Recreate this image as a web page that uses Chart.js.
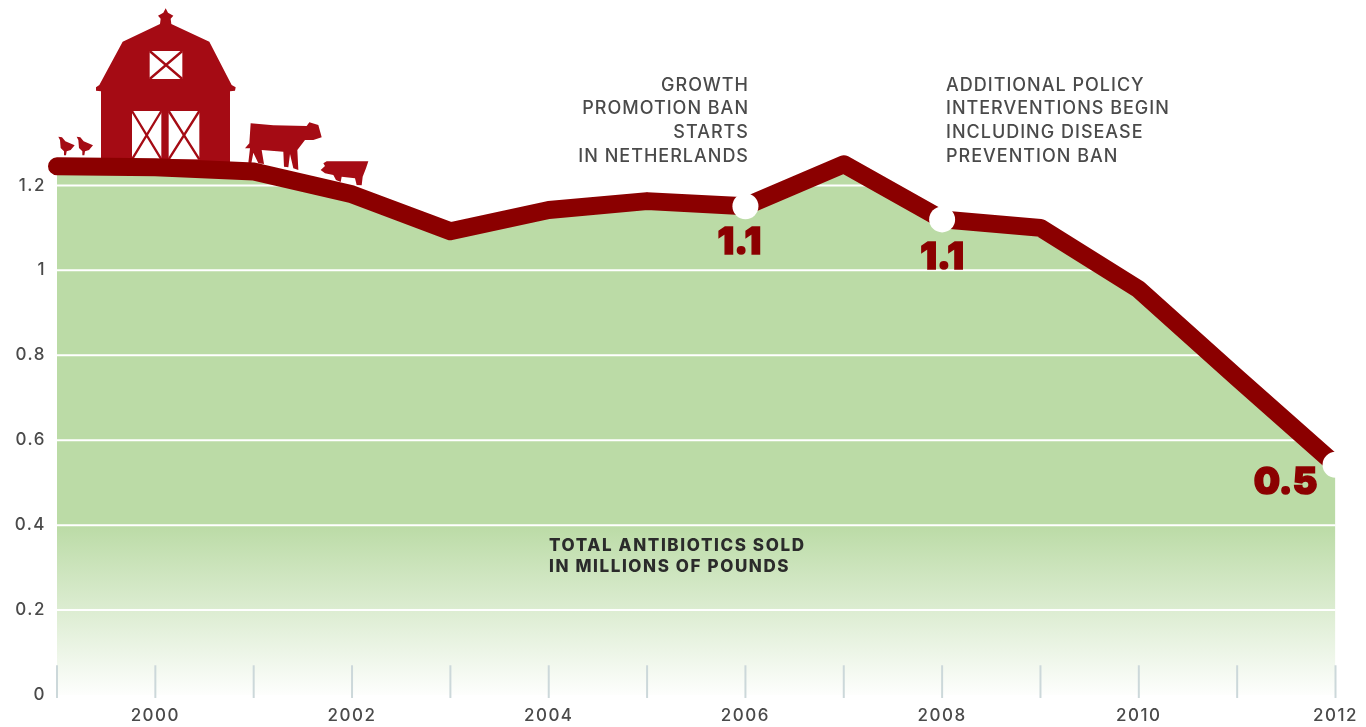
<!DOCTYPE html>
<html>
<head>
<meta charset="utf-8">
<title>Total antibiotics sold</title>
<script src="https://cdn.jsdelivr.net/npm/chart.js@4"></script>
<style>
  html, body { margin: 0; background: #fff; overflow: hidden; }
  canvas { display: block; }
</style>
</head>
<body>
<canvas id="antibioticsChart" width="1366" height="727"></canvas>
<script>
const years = ['1999','2000','2001','2002','2003','2004','2005','2006','2007','2008','2009','2010','2011','2012'];
const sold = [1.245,1.243,1.233,1.179,1.092,1.142,1.163,1.151,1.25,1.12,1.10,0.955,0.747,0.542];
const yTicks = [0,0.2,0.4,0.6,0.8,1,1.2];
const markedYears = ['2006','2008','2012'];
const markLabels = ['1.1','1.1','0.5'];
const noteLeft = ['GROWTH','PROMOTION BAN','STARTS','IN NETHERLANDS'];
const noteRight = ['ADDITIONAL POLICY','INTERVENTIONS BEGIN','INCLUDING DISEASE','PREVENTION BAN'];
const caption = ['TOTAL ANTIBIOTICS SOLD','IN MILLIONS OF POUNDS'];

const RED = '#a50b14';
const DARK = '#8b0000';
const GREEN = '#bbdba6';
const FONT = 'Inter, "Open Sans", sans-serif';

function poly(ctx, pts) {
  ctx.beginPath();
  pts.forEach((p, i) => i ? ctx.lineTo(p[0], p[1]) : ctx.moveTo(p[0], p[1]));
  ctx.closePath();
  ctx.fill();
}

// barn and animals, drawn in the 3x coordinates of the crop I measured them from
function drawFarm(ctx) {
  ctx.save();
  ctx.translate(40, 0);
  ctx.scale(1 / 3, 1 / 3);
  ctx.fillStyle = RED;
  poly(ctx, [[183,490],[183,274],[168,272],[168,262],[178,255],[248,125],[360,72],[362,56],[354,47],[370,38],[377,25],[384,38],[400,47],[392,56],[394,72],[508,125],[575,255],[587,262],[585,272],[570,274],[570,495]]);

  const cross = (x, y, w, h, lw) => {
    ctx.fillStyle = '#fff';
    ctx.fillRect(x, y, w, h);
    ctx.strokeStyle = RED;
    ctx.lineWidth = lw;
    ctx.beginPath();
    ctx.moveTo(x, y); ctx.lineTo(x + w, y + h);
    ctx.moveTo(x + w, y); ctx.lineTo(x, y + h);
    ctx.stroke();
  };
  cross(329, 153, 98, 84, 7);
  cross(276, 333, 88, 145, 7);
  cross(386, 333, 92, 145, 7);

  ctx.fillStyle = RED;
  // chickens
  [0, 55].forEach(dx => {
    poly(ctx, [[55+dx,410],[66+dx,412],[76+dx,424],[104+dx,436],[92+dx,450],[80+dx,454],[78+dx,466],[72+dx,466],[72+dx,454],[62+dx,444],[60+dx,420]]);
  });
  // cow
  poly(ctx, [[632,370],[700,376],[800,378],[808,367],[835,375],[845,412],[820,420],[795,420],[772,450],[775,510],[760,505],[750,462],[745,502],[732,500],[730,455],[665,450],[672,492],[655,490],[640,458],[634,490],[625,488],[630,445],[615,445],[628,430]]);
  // pig
  poly(ctx, [[850,490],[860,484],[975,484],[985,484],[978,505],[968,530],[965,556],[950,555],[945,535],[905,530],[902,546],[888,540],[880,525],[855,520],[842,510],[855,498]]);
  ctx.restore();
}

const decorations = {
  id: 'decorations',
  beforeDraw(chart) {
    chart.ctx.letterSpacing = '1.5px';
  },
  // goes between the green area and the thick line
  afterDatasetDraw(chart, args) {
    if (args.index !== 0) return;
    const { ctx, chartArea, scales } = chart;
    ctx.save();
    ctx.strokeStyle = '#fff';
    ctx.lineWidth = 2;
    yTicks.filter(v => v > 0).forEach(v => {
      const y = scales.y.getPixelForValue(v);
      ctx.beginPath();
      ctx.moveTo(chartArea.left, y);
      ctx.lineTo(chartArea.right, y);
      ctx.stroke();
    });
    ctx.strokeStyle = '#ccd8da';
    years.forEach(year => {
      const x = scales.x.getPixelForValue(year);
      ctx.beginPath();
      ctx.moveTo(x, scales.y.getPixelForValue(0.07));
      ctx.lineTo(x, scales.y.getPixelForValue(-0.007));
      ctx.stroke();
    });
    ctx.restore();
    drawFarm(ctx);
  },
  afterDatasetsDraw(chart) {
    const { ctx, scales } = chart;
    ctx.save();
    ctx.textBaseline = 'middle';
    ctx.fillStyle = '#4a4a4a';
    ctx.font = '500 18px ' + FONT;
    ctx.letterSpacing = '1px';
    ctx.textAlign = 'right';
    const rows = [86, 109, 133, 157];
    noteLeft.forEach((t, i) => ctx.fillText(t, 749, rows[i]));
    ctx.textAlign = 'left';
    noteRight.forEach((t, i) => ctx.fillText(t, 946, rows[i]));

    ctx.fillStyle = '#2b2b2b';
    ctx.font = '800 17px ' + FONT;
    ctx.letterSpacing = '1.6px';
    caption.forEach((t, i) => ctx.fillText(t, 549, 546 + i * 21));

    ctx.fillStyle = DARK;
    ctx.strokeStyle = DARK;
    ctx.lineWidth = 1.5;
    ctx.font = '900 37px ' + FONT;
    ctx.letterSpacing = '0px';
    ctx.textAlign = 'center';
    const labelOffset = [37, 38, 18];
    const labelShift = [-6, 0, -50];
    markedYears.forEach((year, i) => {
      const k = years.indexOf(year);
      const x = scales.x.getPixelForValue(year) + labelShift[i];
      const y = scales.y.getPixelForValue(sold[k]) + labelOffset[i];
      ctx.fillText(markLabels[i], x, y);
      ctx.strokeText(markLabels[i], x, y);
    });
    ctx.restore();
  }
};

new Chart(document.getElementById('antibioticsChart'), {
  type: 'line',
  data: {
    labels: years,
    datasets: [
      {
        // green area under the line
        data: sold,
        order: 2,
        fill: 'origin',
        borderWidth: 0,
        pointRadius: 0,
        backgroundColor(c) {
          const { chart } = c;
          if (!chart.chartArea) return GREEN;
          const y = chart.scales.y;
          const g = chart.ctx.createLinearGradient(0, y.getPixelForValue(0.4), 0, y.getPixelForValue(-0.01));
          g.addColorStop(0, GREEN);
          g.addColorStop(1, '#ffffff');
          return g;
        }
      },
      {
        data: sold,
        order: 1,
        fill: false,
        clip: false,
        borderColor: DARK,
        borderWidth: 18,
        borderCapStyle: 'round',
        borderJoinStyle: 'round',
        tension: 0,
        pointBackgroundColor: '#fff',
        pointBorderWidth: 0,
        pointHoverRadius: 0,
        pointRadius: c => markedYears.includes(years[c.dataIndex]) ? 13 : 0
      }
    ]
  },
  options: {
    responsive: false,
    animation: false,
    devicePixelRatio: 1,
    layout: { padding: { right: 30 } },
    plugins: { legend: { display: false }, tooltip: { enabled: false } },
    scales: {
      x: {
        offset: false,
        grid: { display: false, tickLength: 0 },
        border: { display: false },
        afterFit(s) { s.height = 32; },
        ticks: {
          autoSkip: false,
          maxRotation: 0,
          padding: 11,
          color: '#4a4a4a',
          font: { family: FONT, size: 17, weight: '500' },
          callback(v) { const y = this.getLabelForValue(v); return +y % 2 === 0 ? y : ''; }
        }
      },
      y: {
        min: 0,
        max: 1.606,
        grid: { display: false, tickLength: 0 },
        border: { display: false },
        afterFit(s) { s.width = 57; s.paddingTop = 0; s.paddingBottom = 0; },
        afterBuildTicks(s) { s.ticks = yTicks.map(value => ({ value })); },
        ticks: {
          padding: 11,
          color: '#4a4a4a',
          font: { family: FONT, size: 17, weight: '500' },
          callback: v => String(v)
        }
      }
    }
  },
  plugins: [decorations]
});
</script>
</body>
</html>
